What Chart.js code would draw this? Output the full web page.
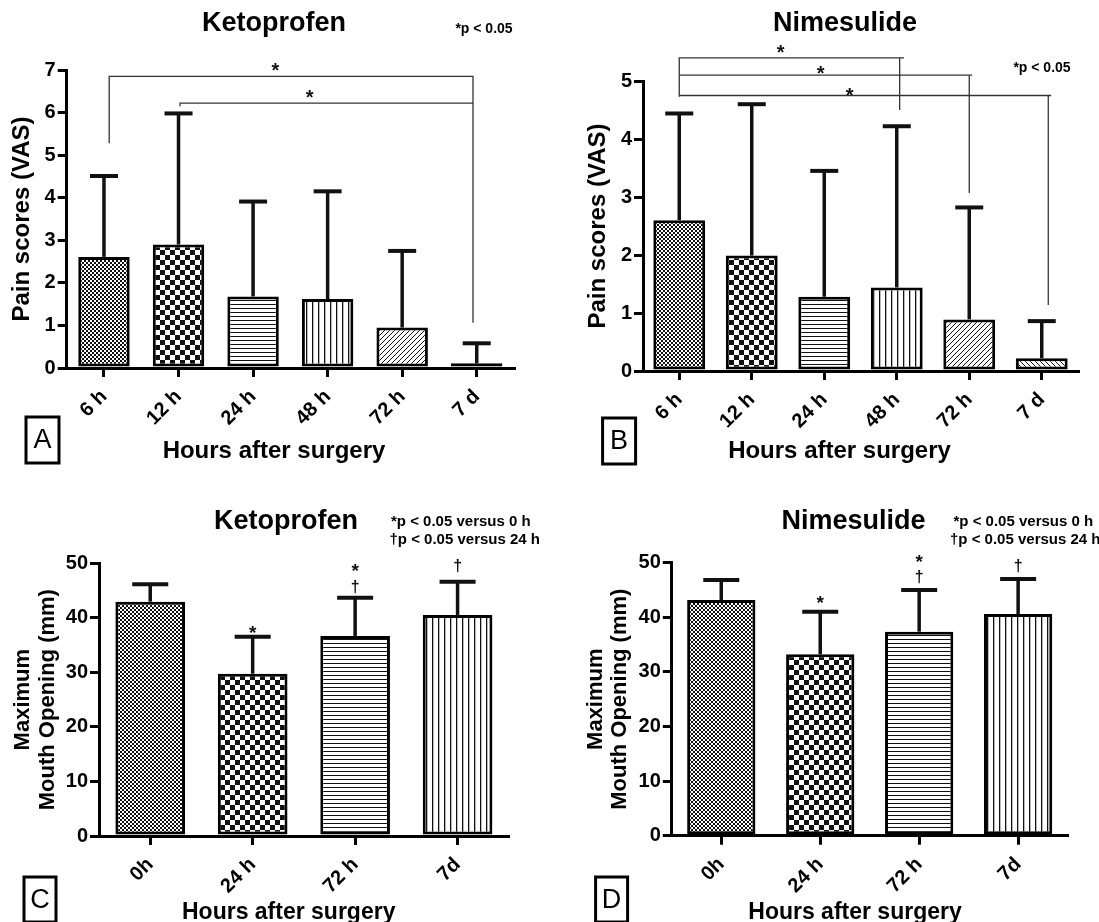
<!DOCTYPE html>
<html>
<head>
<meta charset="utf-8">
<script src="https://cdn.jsdelivr.net/npm/chart.js@4.4.1/dist/chart.umd.min.js"></script>
<style>
  html, body { margin: 0; padding: 0; background: #fff; overflow: hidden; }
  #wrap { position: relative; width: 1099px; height: 922px; }
  canvas { position: absolute; }
</style>
</head>
<body>
<div id="wrap">
  <canvas id="chartA" width="549" height="475" style="left:0;top:0"></canvas>
  <canvas id="chartB" width="550" height="475" style="left:549px;top:0"></canvas>
  <canvas id="chartC" width="549" height="447" style="left:0;top:475px"></canvas>
  <canvas id="chartD" width="550" height="447" style="left:549px;top:475px"></canvas>
</div>
<script>
// pain scores (VAS), mean and SD
const painLabels = ["6 h", "12 h", "24 h", "48 h", "72 h", "7 d"];
const ketoPain = [2.61, 2.90, 1.68, 1.62, 0.95, 0.11];
const ketoPainSD = [1.90, 3.08, 2.23, 2.53, 1.80, 0.47];
const nimePain = [2.60, 1.99, 1.28, 1.44, 0.89, 0.22];
const nimePainSD = [1.84, 2.61, 2.17, 2.78, 1.93, 0.64];

// maximum mouth opening (mm), mean and SD
const mouthLabels = ["0h", "24 h", "72 h", "7d"];
const ketoMouth = [42.97, 29.76, 36.68, 40.53];
const ketoMouthSD = [3.19, 6.79, 7.02, 6.11];
const nimeMouth = [43.17, 33.22, 37.36, 40.60];
const nimeMouthSD = [3.66, 7.81, 7.64, 6.40];

// significance brackets (category index, value) and marks
const ketoPainBrackets = [
  [[0.07, 5.28], [0.07, 6.85], [4.95, 6.85], [4.95, 1.06]],
  [[1.02, 6.15], [1.02, 6.22], [4.95, 6.22]]
];
const ketoPainStars = [[2.30, 7.11, "*"], [2.76, 6.48, "*"]];
const nimePainBrackets = [
  [[0, 4.73], [0, 5.40], [3.1, 5.40]],
  [[3.04, 5.40], [3.04, 4.50]],
  [[0, 5.10], [4.04, 5.10]],
  [[4.0, 5.10], [4.0, 3.07]],
  [[0, 4.75], [5.13, 4.75]],
  [[5.09, 4.75], [5.09, 1.14]]
];
const nimePainStars = [[1.40, 5.57, "*"], [1.95, 5.21, "*"], [2.35, 4.83, "*"]];
const ketoMouthMarks = [[1, 38.1, "*"], [2, 49.5, "*"], [2, 45.7, "†"], [3, 49.5, "†"]];
const nimeMouthMarks = [[1, 43.5, "*"], [2, 51.1, "*"], [2, 47.3, "†"], [3, 49.4, "†"]];

Chart.defaults.font.family = "'Liberation Sans', Arial, sans-serif";
Chart.defaults.color = "#000";

// fill patterns
function makePattern(w, h, draw) {
  const c = document.createElement("canvas");
  c.width = w; c.height = h;
  const g = c.getContext("2d");
  g.fillStyle = "#fff";
  g.fillRect(0, 0, w, h);
  g.fillStyle = "#111";
  g.strokeStyle = "#111";
  draw(g, w, h);
  return c.getContext("2d").createPattern(c, "repeat");
}
const fineChecker = makePattern(4, 4, g => { g.fillRect(0, 0, 2, 2); g.fillRect(2, 2, 2, 2); });
const coarseChecker = makePattern(10, 10, g => { g.fillRect(0, 0, 5, 5); g.fillRect(5, 5, 5, 5); });
const hLines = makePattern(4, 4, g => { g.fillRect(0, 0, 4, 1); });
const vLines = makePattern(6, 6, g => { g.fillRect(0, 0, 1.3, 6); });
const diagUp = makePattern(5, 5, (g, w, h) => {
  g.lineWidth = 1;
  g.beginPath();
  g.moveTo(0, h); g.lineTo(w, 0);
  g.moveTo(-1, 1); g.lineTo(1, -1);
  g.moveTo(w - 1, h + 1); g.lineTo(w + 1, h - 1);
  g.stroke();
});
const diagDown = makePattern(5, 5, (g, w, h) => {
  g.lineWidth = 1;
  g.beginPath();
  g.moveTo(0, 0); g.lineTo(w, h);
  g.moveTo(-1, h - 1); g.lineTo(1, h + 1);
  g.moveTo(w - 1, -1); g.lineTo(w + 1, 1);
  g.stroke();
});
const dashLines = makePattern(6, 4, g => { g.fillRect(0, 1, 3, 1); });

// error bars, brackets, titles and panel letters
const panelPlugin = {
  id: "panel",
  afterDatasetsDraw(chart, args, opts) {
    const ctx = chart.ctx;
    const xs = chart.scales.x, ys = chart.scales.y;
    const means = chart.data.datasets[0].data;
    ctx.save();
    ctx.strokeStyle = "#111";
    ctx.lineCap = "butt";
    means.forEach((v, i) => {
      const px = xs.getPixelForValue(i);
      const y0 = ys.getPixelForValue(v);
      const y1 = ys.getPixelForValue(v + opts.sd[i]);
      ctx.lineWidth = 3.5;
      ctx.beginPath(); ctx.moveTo(px, y0); ctx.lineTo(px, y1); ctx.stroke();
      ctx.lineWidth = 4;
      ctx.beginPath(); ctx.moveTo(px - opts.capW / 2, y1); ctx.lineTo(px + opts.capW / 2, y1); ctx.stroke();
    });
    ctx.strokeStyle = "#333";
    ctx.lineWidth = 1.3;
    (opts.brackets || []).forEach(pts => {
      ctx.beginPath();
      pts.forEach((p, k) => {
        const px = xs.getPixelForValue(p[0]), py = ys.getPixelForValue(p[1]);
        if (k === 0) ctx.moveTo(px, py); else ctx.lineTo(px, py);
      });
      ctx.stroke();
    });
    ctx.fillStyle = "#111";
    ctx.textAlign = "center";
    ctx.textBaseline = "alphabetic";
    (opts.marks || []).forEach(m => {
      const size = m[2] === "*" ? opts.starSize : opts.daggerSize;
      ctx.font = "bold " + size + "px 'Liberation Sans', Arial, sans-serif";
      const off = m[2] === "*" ? 0.57 : 0.3;
      ctx.fillText(m[2], xs.getPixelForValue(m[0]), ys.getPixelForValue(m[1]) + off * size);
    });
    ctx.fillStyle = "#000";
    opts.texts.forEach(t => {
      ctx.font = (t.weight || "bold") + " " + t.size + "px 'Liberation Sans', Arial, sans-serif";
      ctx.textAlign = t.align || "center";
      ctx.textBaseline = "middle";
      ctx.fillText(t.text, t.x, t.y);
    });
    const b = opts.box;
    ctx.lineWidth = 3;
    ctx.strokeStyle = "#000";
    ctx.strokeRect(b.x, b.y, b.w, b.h);
    ctx.font = "27px 'Liberation Sans', Arial, sans-serif";
    ctx.textAlign = "center";
    ctx.textBaseline = "middle";
    ctx.fillText(b.letter, b.x + b.w / 2, b.y + b.h / 2 + 1);
    ctx.restore();
  }
};

function makePanel(id, cfg) {
  return new Chart(document.getElementById(id), {
    type: "bar",
    data: {
      labels: cfg.labels,
      datasets: [{
        data: cfg.means,
        backgroundColor: cfg.fills,
        borderColor: "#000",
        borderWidth: 3,
        borderSkipped: false,
        categoryPercentage: cfg.catPct,
        barPercentage: 1
      }]
    },
    options: {
      responsive: false,
      animation: false,
      layout: { padding: { left: 0, right: cfg.padRight, top: cfg.padTop, bottom: 0 } },
      plugins: {
        legend: { display: false },
        tooltip: { enabled: false },
        panel: {
          sd: cfg.sd, capW: cfg.capW, brackets: cfg.brackets, marks: cfg.marks,
          starSize: cfg.starSize, daggerSize: 16, texts: cfg.texts, box: cfg.box
        }
      },
      scales: {
        x: {
          offset: true,
          grid: { display: true, offset: false, drawOnChartArea: false, drawTicks: true, tickLength: 9, color: "#000", lineWidth: 3 },
          border: { display: true, color: "#000", width: 3 },
          ticks: { font: { size: 20, weight: "bold" }, color: "#000", padding: 8, minRotation: 45, maxRotation: 45, autoSkip: false },
          afterFit: s => { s.height = cfg.xHeight; }
        },
        y: {
          min: 0,
          max: cfg.yMax,
          grid: { display: true, drawOnChartArea: false, drawTicks: true, tickLength: 9, color: "#000", lineWidth: 3 },
          border: { display: true, color: "#000", width: 3 },
          ticks: { stepSize: cfg.yStep, font: { size: 20, weight: "bold" }, color: "#000", padding: 2 },
          title: {
            display: true,
            text: cfg.yTitle,
            color: "#000",
            font: { size: cfg.yTitleSize, weight: "bold", lineHeight: cfg.yTitleLH },
            padding: { top: cfg.yTitlePad, bottom: 0 }
          },
          afterFit: s => { s.width = cfg.yWidth; }
        }
      }
    },
    plugins: [panelPlugin]
  });
}

makePanel("chartA", {
  labels: painLabels, means: ketoPain, sd: ketoPainSD,
  fills: [fineChecker, coarseChecker, hLines, vLines, diagUp, dashLines],
  catPct: 0.69, padRight: 35, padTop: 70, xHeight: 107, yWidth: 66.7,
  yMax: 7, yStep: 1, yTitle: "Pain scores (VAS)", yTitleSize: 24, yTitleLH: 1.2, yTitlePad: 8,
  capW: 28, starSize: 20,
  brackets: ketoPainBrackets, marks: ketoPainStars,
  texts: [
    { text: "Ketoprofen", x: 274, y: 24, size: 27 },
    { text: "*p < 0.05", x: 484, y: 29, size: 14 },
    { text: "Hours after surgery", x: 274, y: 451, size: 24 }
  ],
  box: { x: 26, y: 417, w: 33, h: 46, letter: "A" }
});

makePanel("chartB", {
  labels: painLabels, means: nimePain, sd: nimePainSD,
  fills: [fineChecker, coarseChecker, hLines, vLines, diagUp, diagDown],
  catPct: 0.715, padRight: 21, padTop: 81, xHeight: 104, yWidth: 94,
  yMax: 5, yStep: 1, yTitle: "Pain scores (VAS)", yTitleSize: 24, yTitleLH: 1.2, yTitlePad: 34.6,
  capW: 28, starSize: 20,
  brackets: nimePainBrackets, marks: nimePainStars,
  texts: [
    { text: "Nimesulide", x: 296, y: 24, size: 27 },
    { text: "*p < 0.05", x: 493, y: 68, size: 14 },
    { text: "Hours after surgery", x: 290.5, y: 451, size: 24 }
  ],
  box: { x: 53.6, y: 418, w: 33, h: 46, letter: "B" }
});

makePanel("chartC", {
  labels: mouthLabels, means: ketoMouth, sd: ketoMouthSD,
  fills: [fineChecker, coarseChecker, hLines, vLines],
  catPct: 0.68, padRight: 40.2, padTop: 88.3, xHeight: 86, yWidth: 99,
  yMax: 50, yStep: 10, yTitle: ["Maximum", "Mouth Opening (mm)"], yTitleSize: 22, yTitleLH: 1.12, yTitlePad: 10.5,
  capW: 36, starSize: 19,
  brackets: [], marks: ketoMouthMarks,
  texts: [
    { text: "Ketoprofen", x: 286, y: 46.5, size: 27 },
    { text: "*p < 0.05 versus 0 h", x: 391, y: 46.7, size: 15, align: "left" },
    { text: "†p < 0.05 versus 24 h", x: 389.5, y: 65, size: 15, align: "left" },
    { text: "Hours after surgery", x: 288.7, y: 437.5, size: 23 }
  ],
  box: { x: 24, y: 402, w: 32, h: 45, letter: "C" }
});

makePanel("chartD", {
  labels: mouthLabels, means: nimeMouth, sd: nimeMouthSD,
  fills: [fineChecker, coarseChecker, hLines, vLines],
  catPct: 0.69, padRight: 31.4, padTop: 87.7, xHeight: 86.3, yWidth: 122.8,
  yMax: 50, yStep: 10, yTitle: ["Maximum", "Mouth Opening (mm)"], yTitleSize: 22, yTitleLH: 1.12, yTitlePad: 34.3,
  capW: 36, starSize: 19,
  brackets: [], marks: nimeMouthMarks,
  texts: [
    { text: "Nimesulide", x: 304.5, y: 46.7, size: 27 },
    { text: "*p < 0.05 versus 0 h", x: 404.5, y: 46.7, size: 15, align: "left" },
    { text: "†p < 0.05 versus 24 h", x: 401, y: 65, size: 15, align: "left" },
    { text: "Hours after surgery", x: 306, y: 437.5, size: 23 }
  ],
  box: { x: 46.6, y: 402, w: 32, h: 45, letter: "D" }
});
</script>
</body>
</html>
